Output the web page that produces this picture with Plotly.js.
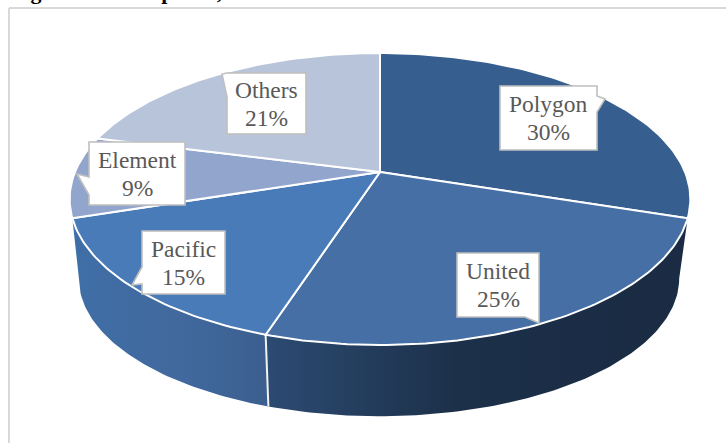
<!DOCTYPE html>
<html>
<head>
<meta charset="utf-8">
<script src="https://cdn.plot.ly/plotly-3.0.1.min.js"></script>
<style>html,body{margin:0;padding:0;background:#fff;overflow:hidden}#chart{width:726px;height:443px}</style>
</head>
<body>
<div id="chart"></div>
<script>
// Share of each group, clockwise from twelve o'clock
const categories = ['Polygon', 'United', 'Pacific', 'Element', 'Others'];
const shares = [30, 25, 15, 9, 21];
const topColors = ['#365e8e', '#4670a5', '#4a7bb9', '#92a6cd', '#b7c4da'];

// Perspective model of the tilted disc, in plot units
const topDisc = {cx: 380, cy: 172, a: 305, b: 141, p: 0.185};
const baseDisc = {cx: 379, cy: 253, a: 295, b: 133, p: 0.185};

function project(disc, deg) {
  const t = deg * Math.PI / 180;
  const w = 1 + disc.p * Math.cos(t);
  return [disc.cx + disc.a * Math.sin(t) / w, disc.cy - disc.b * Math.cos(t) / w];
}
function arc(disc, from, to) {
  const n = Math.max(2, Math.ceil(Math.abs(to - from)));
  const pts = [];
  for (let i = 0; i <= n; i++) pts.push(project(disc, from + (to - from) * i / n));
  return pts;
}

const total = shares.reduce((s, v) => s + v, 0);
const edges = [0];
shares.forEach(v => edges.push(edges[edges.length - 1] + v / total * 360));

const traces = [];
function polygon(pts, style) {
  traces.push(Object.assign({
    type: 'scatter', mode: 'lines', hoverinfo: 'skip', showlegend: false,
    x: pts.map(p => p[0]), y: pts.map(p => p[1])
  }, style));
}

// Side wall: only the two front slices show an outer face
const walls = [
  {from: edges[1], to: edges[2], baseFrom: 100.7, baseTo: edges[2],
   scale: [[0, '#2c4b72'], [0.45, '#1c3049'], [1, '#1a2b43']]},
  {from: edges[2], to: edges[3], baseFrom: edges[2], baseTo: 259.3,
   scale: [[0, '#3f6ea6'], [0.55, '#41699e'], [1, '#3b5f8e']]}
];
walls.forEach(w => {
  const pts = arc(topDisc, w.from, w.to).concat(arc(baseDisc, w.baseTo, w.baseFrom));
  pts.push(pts[0]);
  polygon(pts, {
    fill: 'toself', line: {width: 0, color: 'rgba(0,0,0,0)'},
    fillgradient: {type: 'horizontal', colorscale: w.scale}
  });
});
// Seam between the two wall panels
polygon([project(topDisc, edges[2]), project(baseDisc, edges[2])],
  {line: {color: '#f2f2f2', width: 2}});

// Top face slices
const apex = [topDisc.cx, topDisc.cy];
shares.forEach((v, i) => {
  const pts = [apex].concat(arc(topDisc, edges[i], edges[i + 1]), [apex]);
  polygon(pts, {fill: 'toself', fillcolor: topColors[i], line: {color: '#ffffff', width: 2}});
});

// Callouts: box edges plus the pointer outline running clockwise from the top-left corner
const callouts = [
  {x0: 500, x1: 597, y0: 86, y1: 150, right: [[597, 96], [605, 99], [597, 112]]},
  {x0: 457, x1: 539, y0: 253, y1: 317, bottom: [[539, 323], [525, 317], [506, 317]]},
  {x0: 142, x1: 225, y0: 231, y1: 294, left: [[142, 284], [132, 285], [142, 267]]},
  {x0: 89, x1: 185, y0: 142, y1: 205, left: [[89, 195], [77, 174], [89, 177]]},
  {x0: 227, x1: 306, y0: 73, y1: 134, left: [[227, 97], [222, 74]]}
];
function calloutPath(c) {
  const pts = [[c.x0, c.y0], [c.x1, c.y0]]
    .concat(c.right || [], [[c.x1, c.y1]], c.bottom || [], [[c.x0, c.y1]], c.left || []);
  return 'M' + pts.map(p => p.join(',')).join('L') + 'Z';
}

const shapes = callouts.map(c => ({
  type: 'path', xref: 'x', yref: 'y', path: calloutPath(c),
  fillcolor: '#ffffff', line: {color: '#bfbfbf', width: 1.6}
}));
// Chart frame
shapes.push({type: 'line', xref: 'x', yref: 'y', x0: 9, x1: 9, y0: 8, y1: 443, line: {color: '#d9d9d9', width: 2}});
shapes.push({type: 'line', xref: 'x', yref: 'y', x0: 9, x1: 726, y0: 8, y1: 8, line: {color: '#d9d9d9', width: 2}});

// Each callout holds two lines set apart by a fixed leading
const labelFont = {family: 'Liberation Serif', size: 23.5, color: '#595959'};
const leading = 28;
const annotations = [];
callouts.forEach((c, i) => {
  const xc = (c.x0 + c.x1) / 2, yc = (c.y0 + c.y1) / 2;
  [categories[i], shares[i] + '%'].forEach((line, k) => {
    annotations.push({
      xref: 'x', yref: 'y', x: xc, y: yc + (k - 0.5) * leading,
      text: line, showarrow: false, font: labelFont
    });
  });
});
// Caption running along the top edge of the page
annotations.push({
  xref: 'paper', yref: 'paper', x: 0.012, y: 1, xanchor: 'left', yanchor: 'bottom', yshift: -6,
  text: '<b>Figure 12. Group Size,</b>', showarrow: false,
  font: {family: 'Liberation Serif', size: 22, color: '#000000'}
});

Plotly.newPlot('chart', traces, {
  width: 726, height: 443,
  margin: {l: 0, r: 0, t: 0, b: 0},
  paper_bgcolor: '#ffffff', plot_bgcolor: '#ffffff',
  xaxis: {range: [0, 726], visible: false, fixedrange: true},
  yaxis: {range: [443, 0], visible: false, fixedrange: true},
  shapes: shapes, annotations: annotations, showlegend: false
}, {displayModeBar: false, staticPlot: true});
</script>
</body>
</html>
